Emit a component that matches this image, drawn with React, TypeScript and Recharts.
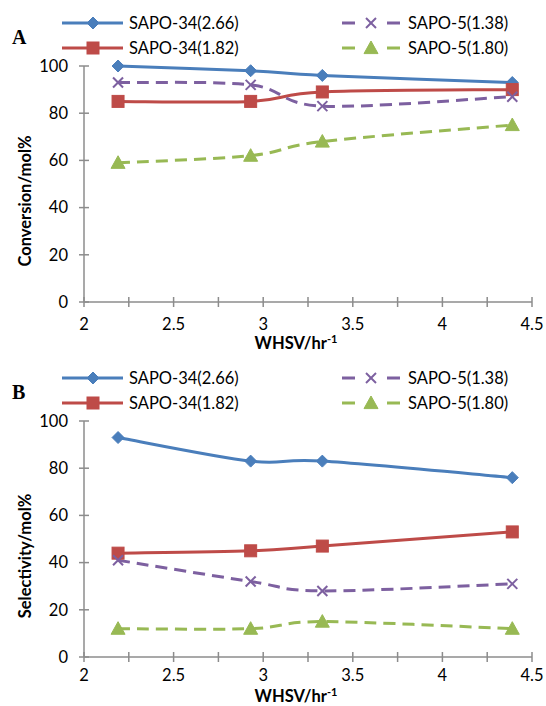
import React from 'react';
import { LineChart, Line, XAxis, YAxis } from 'recharts';

const whsv = [2.19, 2.93, 3.33, 4.39];
const seriesNames = ['SAPO-34(2.66)', 'SAPO-34(1.82)', 'SAPO-5(1.38)', 'SAPO-5(1.80)'];

const convSapo34_266 = [100, 98, 96, 93];
const convSapo34_182 = [85, 85, 89, 90];
const convSapo5_138 = [93, 92, 83, 87];
const convSapo5_180 = [59, 62, 68, 75];

const selSapo34_266 = [93, 83, 83, 76];
const selSapo34_182 = [44, 45, 47, 53];
const selSapo5_138 = [41, 32, 28, 31];
const selSapo5_180 = [12, 12, 15, 12];

const xTicks = [2, 2.25, 2.5, 2.75, 3, 3.25, 3.5, 3.75, 4, 4.25, 4.5];
const xLabelTicks = [2, 2.5, 3, 3.5, 4, 4.5];
const yTicks = [0, 20, 40, 60, 80, 100];

const COLORS = ['#4A7EBB', '#BE4B48', '#7D60A0', '#98B954'];
const DASHED = [false, false, true, true];
const MARKERS = ['diamond', 'square', 'x', 'triangle'];
const AXIS = '#8C8C8C';
const FONT = 'Lato, "Open Sans", sans-serif';

// Excel-like smoothed line (uniform Catmull-Rom as cubic Bezier)
function excelSmooth(context: any) {
  let pts: number[][] = [];
  return {
    areaStart() {},
    areaEnd() {},
    lineStart() {
      pts = [];
    },
    lineEnd() {
      const n = pts.length;
      if (n === 0) return;
      context.moveTo(pts[0][0], pts[0][1]);
      if (n === 1) return;
      for (let i = 0; i < n - 1; i++) {
        const p0 = pts[Math.max(i - 1, 0)];
        const p1 = pts[i];
        const p2 = pts[i + 1];
        const p3 = pts[Math.min(i + 2, n - 1)];
        context.bezierCurveTo(
          p1[0] + (p2[0] - p0[0]) / 6,
          p1[1] + (p2[1] - p0[1]) / 6,
          p2[0] - (p3[0] - p1[0]) / 6,
          p2[1] - (p3[1] - p1[1]) / 6,
          p2[0],
          p2[1]
        );
      }
    },
    point(x: number, y: number) {
      pts.push([+x, +y]);
    },
  };
}

function Marker({ kind, cx, cy, color }: { kind: string; cx: number; cy: number; color: string }) {
  if (kind === 'diamond') {
    const r = 6;
    return (
      <polygon
        points={`${cx},${cy - r} ${cx + r},${cy} ${cx},${cy + r} ${cx - r},${cy}`}
        fill={color}
        stroke={color}
        strokeWidth={1}
        strokeDasharray="none"
      />
    );
  }
  if (kind === 'square') {
    const r = 6;
    return <rect x={cx - r} y={cy - r} width={2 * r} height={2 * r} fill={color} stroke={color} strokeWidth={1} strokeDasharray="none" />;
  }
  if (kind === 'x') {
    const r = 5;
    return (
      <g stroke={color} strokeWidth={2} strokeDasharray="none">
        <line x1={cx - r} y1={cy - r} x2={cx + r} y2={cy + r} />
        <line x1={cx - r} y1={cy + r} x2={cx + r} y2={cy - r} />
      </g>
    );
  }
  const r = 7;
  return (
    <polygon
      points={`${cx},${cy - r} ${cx + r},${cy + r * 0.8} ${cx - r},${cy + r * 0.8}`}
      fill={color}
      stroke={color}
      strokeWidth={1}
      strokeDasharray="none"
    />
  );
}

function makeDot(idx: number) {
  return (props: any) => {
    const { cx, cy, index } = props;
    if (cx == null || cy == null) return <g key={`d${idx}-${index}`} />;
    return (
      <g key={`d${idx}-${index}`}>
        <Marker kind={MARKERS[idx]} cx={cx} cy={cy} color={COLORS[idx]} />
      </g>
    );
  };
}

function makeXTick(labelOffset: number) {
  return (props: any) => {
    const { x, y, payload } = props;
    const v = payload.value;
    const show = xLabelTicks.some((t) => Math.abs(t - v) < 1e-6);
    return (
      <g key={`xt-${v}`}>
        <line x1={x} x2={x} y1={y - 5} y2={y + 5} stroke={AXIS} strokeWidth={1.5} />
        {show && (
          <text x={x} y={y + labelOffset} dy="0.35em" textAnchor="middle" fontFamily={FONT} fontSize={16.5} fill="#000">
            {String(v)}
          </text>
        )}
      </g>
    );
  };
}

function YTick(props: any) {
  const { x, y, payload } = props;
  return (
    <g>
      <line x1={x - 5} x2={x + 5} y1={y} y2={y} stroke={AXIS} strokeWidth={1.5} />
      <text x={x - 16} y={y} dy="0.35em" textAnchor="end" fontFamily={FONT} fontSize={16.5} fill="#000">
        {String(payload.value)}
      </text>
    </g>
  );
}

function LegendEntry({ idx, x, y }: { idx: number; x: number; y: number }) {
  const color = COLORS[idx];
  return (
    <g>
      {DASHED[idx] ? (
        <line x1={x} x2={x + 58} y1={y} y2={y} stroke={color} strokeWidth={3} strokeDasharray="13 32 13" />
      ) : (
        <line x1={x} x2={x + 61} y1={y} y2={y} stroke={color} strokeWidth={3} />
      )}
      <Marker kind={MARKERS[idx]} cx={x + (DASHED[idx] ? 29 : 31)} cy={y} color={color} />
      <text x={x + (DASHED[idx] ? 66 : 67)} y={y} dy="0.35em" fontFamily={FONT} fontSize={16.5} fill="#000">
        {seriesNames[idx]}
      </text>
    </g>
  );
}

function Panel({
  top,
  letter,
  yTitle,
  titleY,
  labelOffset,
  values,
}: {
  top: number;
  letter: string;
  yTitle: string;
  titleY: number;
  labelOffset: number;
  values: number[][];
}) {
  const rows = whsv.map((x, i) => ({
    x,
    s0: values[0][i],
    s1: values[1][i],
    s2: values[2][i],
    s3: values[3][i],
  }));
  return (
    <div style={{ position: 'absolute', left: 0, top, width: 546, height: 353 }}>
      <LineChart width={546} height={353} data={rows} margin={{ top: 66, right: 14, bottom: 0, left: 0 }}>
        <XAxis
          dataKey="x"
          type="number"
          domain={[2, 4.5]}
          ticks={xTicks}
          interval={0}
          height={51}
          tickSize={0}
          tickMargin={0}
          tickLine={false}
          axisLine={{ stroke: AXIS, strokeWidth: 1.5 }}
          tick={makeXTick(labelOffset)}
        />
        <YAxis
          type="number"
          domain={[0, 100]}
          ticks={yTicks}
          interval={0}
          width={84}
          tickSize={0}
          tickMargin={0}
          tickLine={false}
          axisLine={{ stroke: AXIS, strokeWidth: 1.5 }}
          tick={<YTick />}
        />
        {[0, 1, 2, 3].map((i) => (
          <Line
            key={i}
            dataKey={`s${i}`}
            type={excelSmooth as any}
            stroke={COLORS[i]}
            strokeWidth={3}
            strokeDasharray={DASHED[i] ? '12 7' : undefined}
            dot={makeDot(i)}
            activeDot={false}
            isAnimationActive={false}
            name={seriesNames[i]}
          />
        ))}
      </LineChart>
      <svg
        width={546}
        height={353}
        style={{ position: 'absolute', left: 0, top: 0, pointerEvents: 'none', overflow: 'visible' }}
      >
        <text x={12} y={44} fontFamily='"Liberation Serif", "Times New Roman", serif' fontWeight="bold" fontSize={20} fill="#000">
          {letter}
        </text>
        <LegendEntry idx={0} x={62} y={23} />
        <LegendEntry idx={1} x={62} y={48} />
        <LegendEntry idx={2} x={342} y={23} />
        <LegendEntry idx={3} x={342} y={48} />
        <text
          x={0}
          y={0}
          transform={`translate(31, 201) rotate(-90)`}
          textAnchor="middle"
          fontFamily={FONT}
          fontWeight="bold"
          fontSize={16.5}
          fill="#000"
        >
          {yTitle}
        </text>
        <text x={296} y={titleY} textAnchor="middle" fontFamily={FONT} fontWeight="bold" fontSize={16.5} fill="#000">
          WHSV/hr
          <tspan fontSize={11} dy={-6}>
            -1
          </tspan>
        </text>
      </svg>
    </div>
  );
}

export default function App() {
  return (
    <div style={{ position: 'absolute', left: 0, top: 0, width: 546, height: 706, overflow: 'hidden', background: '#fff' }}>
      <Panel
        top={0}
        letter="A"
        yTitle="Conversion/mol%"
        titleY={349}
        labelOffset={22}
        values={[convSapo34_266, convSapo34_182, convSapo5_138, convSapo5_180]}
      />
      <Panel
        top={355}
        letter="B"
        yTitle="Selectivity/mol%"
        titleY={347}
        labelOffset={18}
        values={[selSapo34_266, selSapo34_182, selSapo5_138, selSapo5_180]}
      />
    </div>
  );
}
